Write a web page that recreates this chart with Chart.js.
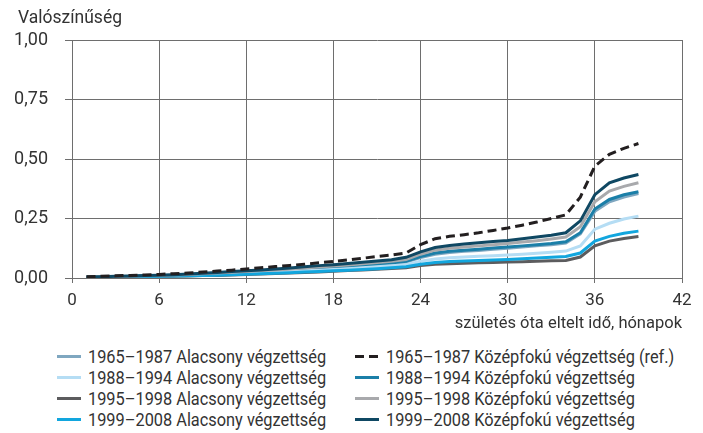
<!DOCTYPE html>
<html>
<head>
<meta charset="utf-8">
<script src="https://cdn.jsdelivr.net/npm/chart.js@4"></script>
<style>
  html, body { margin: 0; padding: 0; background: #fff; }
  body { width: 703px; height: 433px; position: relative; overflow: hidden;
         font-family: 'Roboto', 'Liberation Sans', sans-serif; color: #333; }
  #wrap { position: absolute; left: 0; top: 0; width: 703px; height: 334px; }
  #ytitle { position: absolute; left: 18px; top: 6px; font-size: 17.5px; line-height: 22px; }
  #legend { position: absolute; left: 0; top: 346px; width: 703px; }
  .item { position: absolute; height: 21px; display: flex; align-items: center; font-size: 19px; white-space: nowrap; }
  .swatch { width: 24px; height: 3px; margin-right: 7px; flex: none; }
  .lbl { display: inline-block; transform: scaleX(0.86); transform-origin: 0 50%; }
</style>
</head>
<body>
<div id="wrap"><canvas id="c" width="703" height="334"></canvas></div>
<div id="ytitle"></div>
<div id="legend"></div>
<script>
// ---- data ----
const months = [1,2,3,4,5,6,7,8,9,10,11,12,13,14,15,16,17,18,19,20,21,22,23,24,25,26,27,28,29,30,31,32,33,34,35,36,37,38,39];

const low1965 = [0.003,0.004,0.005,0.006,0.007,0.009,0.011,0.013,0.015,0.018,0.021,0.024,0.027,0.030,0.033,0.036,0.040,0.044,0.048,0.052,0.056,0.061,0.067,0.086,0.100,0.107,0.112,0.116,0.121,0.125,0.130,0.135,0.140,0.147,0.185,0.280,0.320,0.340,0.355];
const low1988 = [0.003,0.004,0.005,0.006,0.007,0.008,0.010,0.011,0.013,0.015,0.017,0.020,0.022,0.025,0.027,0.030,0.033,0.036,0.039,0.043,0.047,0.051,0.056,0.070,0.080,0.085,0.088,0.091,0.094,0.097,0.100,0.104,0.108,0.113,0.135,0.205,0.230,0.248,0.260];
const low1995 = [0.002,0.003,0.004,0.004,0.005,0.006,0.007,0.008,0.010,0.011,0.013,0.015,0.017,0.019,0.021,0.023,0.025,0.028,0.031,0.034,0.037,0.040,0.043,0.052,0.058,0.060,0.062,0.064,0.065,0.067,0.068,0.070,0.072,0.074,0.088,0.135,0.155,0.166,0.174];
const low1999 = [0.003,0.003,0.004,0.005,0.006,0.007,0.008,0.009,0.011,0.012,0.014,0.016,0.018,0.020,0.022,0.025,0.027,0.030,0.033,0.036,0.039,0.043,0.047,0.058,0.065,0.069,0.071,0.074,0.076,0.078,0.081,0.084,0.087,0.090,0.105,0.155,0.175,0.188,0.197];
const mid1965 = [0.005,0.007,0.009,0.011,0.013,0.015,0.018,0.021,0.025,0.029,0.033,0.038,0.043,0.048,0.053,0.058,0.064,0.070,0.076,0.083,0.090,0.097,0.105,0.140,0.165,0.175,0.182,0.190,0.200,0.210,0.222,0.235,0.250,0.265,0.340,0.470,0.520,0.545,0.565];
const mid1988 = [0.003,0.004,0.005,0.006,0.008,0.010,0.012,0.014,0.016,0.019,0.022,0.025,0.028,0.031,0.034,0.038,0.042,0.046,0.050,0.054,0.058,0.063,0.070,0.090,0.105,0.112,0.117,0.121,0.126,0.130,0.135,0.140,0.145,0.152,0.190,0.290,0.330,0.350,0.362];
const mid1995 = [0.004,0.005,0.006,0.007,0.009,0.011,0.013,0.015,0.018,0.021,0.024,0.027,0.031,0.034,0.038,0.042,0.046,0.050,0.055,0.060,0.065,0.070,0.078,0.100,0.117,0.125,0.130,0.135,0.140,0.145,0.151,0.157,0.164,0.172,0.215,0.320,0.365,0.385,0.400];
const mid1999 = [0.004,0.005,0.007,0.008,0.010,0.012,0.014,0.017,0.020,0.023,0.027,0.030,0.034,0.038,0.042,0.047,0.052,0.056,0.061,0.066,0.071,0.077,0.087,0.110,0.128,0.137,0.143,0.148,0.153,0.158,0.165,0.172,0.180,0.190,0.240,0.350,0.400,0.420,0.435];

const seriesLabels = [
  '1965–1987 Alacsony végzettség', '1965–1987 Középfokú végzettség (ref.)',
  '1988–1994 Alacsony végzettség', '1988–1994 Középfokú végzettség',
  '1995–1998 Alacsony végzettség', '1995–1998 Középfokú végzettség',
  '1999–2008 Alacsony végzettség', '1999–2008 Középfokú végzettség'
];
const yTickLabels = ['0,00', '0,25', '0,50', '0,75', '1,00'];
const xTickLabels = ['0', '6', '12', '18', '24', '30', '36', '42'];
const yTitle = 'Valószínűség';
const xTitle = 'születés óta eltelt idő, hónapok';

// ---- styles ----
const seriesValues = [low1965, mid1965, low1988, mid1988, low1995, mid1995, low1999, mid1999];
const colors = ['#7fa7c0', '#231f20', '#b5ddf4', '#1b7fa8', '#5c5c5e', '#a8a9ac', '#12a6de', '#0f4863'];
const drawOrder = [8, 1, 5, 7, 6, 3, 4, 2];

const datasets = seriesValues.map((vals, i) => ({
  label: seriesLabels[i],
  data: months.map((m, j) => ({ x: m, y: vals[j] })),
  borderColor: colors[i],
  backgroundColor: colors[i],
  borderWidth: 3,
  borderDash: i === 1 ? [9, 5] : [],
  pointRadius: 0,
  tension: 0,
  fill: false,
  order: drawOrder[i]
}));

const fontFam = "'Roboto', 'Liberation Sans', sans-serif";
const gridColor = '#6e6e6e';

const chart = new Chart(document.getElementById('c'), {
  type: 'line',
  data: { datasets },
  options: {
    responsive: false,
    animation: false,
    layout: { padding: { top: 40, right: 21, bottom: 0, left: 0 } },
    plugins: { legend: { display: false }, tooltip: { enabled: false } },
    scales: {
      x: {
        type: 'linear', min: 0, max: 42,
        ticks: { stepSize: 6, color: '#333', font: { family: fontFam, size: 17 }, padding: 8,
                 callback: (v) => xTickLabels[Math.round(v / 6)] },
        grid: { color: gridColor, lineWidth: 1, tickLength: 5 },
        border: { color: gridColor },
        title: { display: true, text: xTitle, align: 'end', color: '#333',
                 font: { family: fontFam, size: 16.5 }, padding: { top: 0, bottom: 0 } },
        afterFit: (s) => { s.height = 56; }
      },
      y: {
        min: 0, max: 1,
        ticks: { stepSize: 0.25, color: '#333', font: { family: fontFam, size: 18 }, padding: 17,
                 callback: (v) => yTickLabels[Math.round(v / 0.25)] },
        grid: { color: gridColor, lineWidth: 1, tickLength: 7 },
        border: { color: gridColor },
        afterFit: (s) => { s.width = 72; }
      }
    }
  }
});

document.getElementById('ytitle').textContent = yTitle;

// ---- HTML legend built from the chart's datasets ----
const legend = document.getElementById('legend');
const colX = [57, 355];
chart.data.datasets.forEach((ds, i) => {
  const col = i % 2, row = Math.floor(i / 2);
  const it = document.createElement('div');
  it.className = 'item';
  it.style.left = colX[col] + 'px';
  it.style.top = (row * 21) + 'px';
  const sw = document.createElement('span');
  sw.className = 'swatch';
  if (ds.borderDash && ds.borderDash.length) {
    sw.style.background = `linear-gradient(to right, ${ds.borderColor} 0 9px, transparent 9px 14px, ${ds.borderColor} 14px 23px, transparent 23px)`;
  } else {
    sw.style.background = ds.borderColor;
  }
  const tx = document.createElement('span');
  tx.className = 'lbl';
  tx.textContent = ds.label;
  it.appendChild(sw); it.appendChild(tx);
  legend.appendChild(it);
});
</script>
</body>
</html>
